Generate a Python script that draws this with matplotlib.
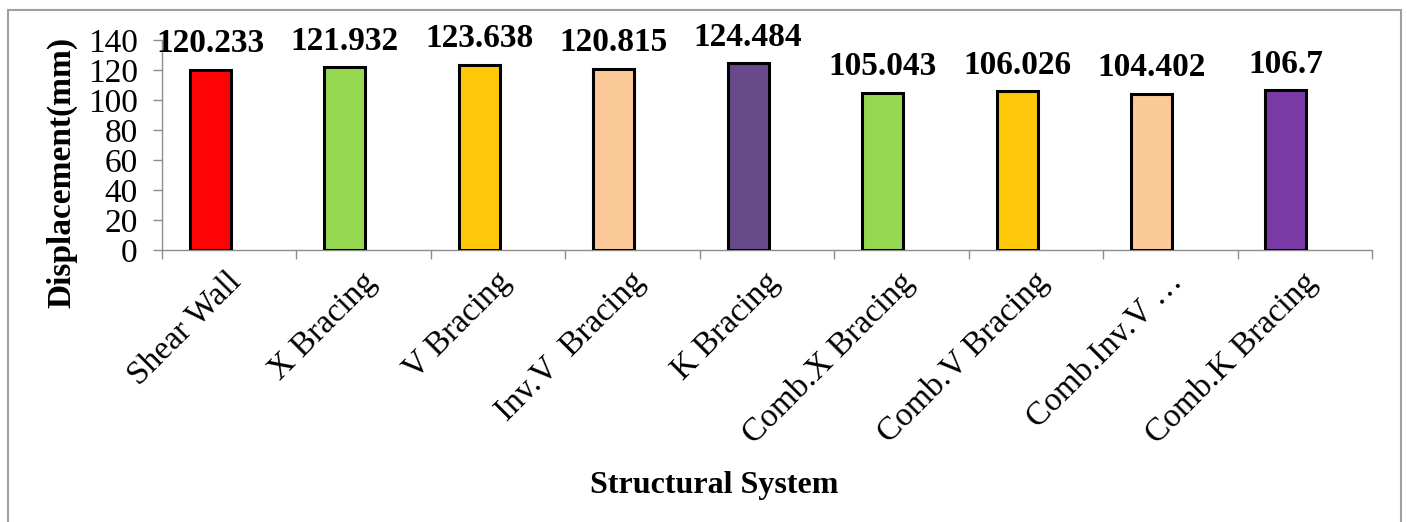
import matplotlib
matplotlib.use('Agg')
import matplotlib.pyplot as plt
from matplotlib.patches import Rectangle
import numpy as np

systems = ['Shear Wall', 'X Bracing', 'V Bracing', 'Inv.V  Bracing', 'K Bracing',
           'Comb.X Bracing', 'Comb.V Bracing', 'Comb.Inv.V \u2026', 'Comb.K Bracing']
displacement = [120.233, 121.932, 123.638, 120.815, 124.484,
                105.043, 106.026, 104.402, 106.7]
labels = ['120.233', '121.932', '123.638', '120.815', '124.484',
          '105.043', '106.026', '104.402', '106.7']
colors = ['#FF0404', '#95D850', '#FFC80A', '#FCCA98', '#684A8A',
          '#95D850', '#FFC80A', '#FCCA98', '#7A3AA6']
yticks = [0, 20, 40, 60, 80, 100, 120, 140]

plt.rcParams['font.family'] = ['Liberation Serif', 'DejaVu Serif']

W, H = 1407, 522
fig = plt.figure(figsize=(W / 100, H / 100), dpi=100)
ax = fig.add_axes([162 / W, 1 - 250.5 / H, 1210 / W, 210.5 / H])

x = np.arange(len(systems))
ax.bar(x - 0.14, displacement, width=0.305, color=colors,
       edgecolor='black', linewidth=2.2, zorder=3)

for xi, v, lab in zip(x, displacement, labels):
    ax.annotate(lab, (xi - 0.14, v), xytext=(0, 12.5), textcoords='offset points',
                ha='center', va='baseline', fontsize=24, fontweight='bold')

ax.set_xlim(-0.5, len(systems) - 0.5)
ax.set_ylim(0, 140)
ax.set_yticks(yticks)
ax.tick_params(axis='y', direction='out', length=6.5, width=1, color='#8c8c8c',
               labelsize=24, pad=11)

# category boundary ticks; category names are placed as rotated texts
ax.set_xticks(np.arange(-0.5, len(systems)))
ax.set_xticklabels([])
ax.tick_params(axis='x', direction='out', length=6.5, width=1, color='#8c8c8c')
for xi, name in zip(x, systems):
    ax.annotate(name, (xi, 0), xycoords=('data', 'axes fraction'),
                xytext=(-3, -16), textcoords='offset pixels',
                rotation=45, rotation_mode='anchor', ha='right', va='top',
                fontsize=24)

for s in ['top', 'right']:
    ax.spines[s].set_visible(False)
for s in ['left', 'bottom']:
    ax.spines[s].set_color('#8c8c8c')
    ax.spines[s].set_linewidth(1)

fig.text(62 / W, 1 - 172 / H, 'Displacement(mm)', rotation=90, ha='center',
         va='center', fontsize=24, fontweight='bold')
fig.text(714 / W, 1 - 486 / H, 'Structural System', ha='center', va='center',
         fontsize=23, fontweight='bold')

# outer chart border
fig.patches.append(Rectangle((8 / W, -0.05), 1393 / W, 1.05 - 10 / H,
                             transform=fig.transFigure, fill=False,
                             edgecolor='#a0a0a0', linewidth=1.5))

fig.savefig('out.png', dpi=100)
